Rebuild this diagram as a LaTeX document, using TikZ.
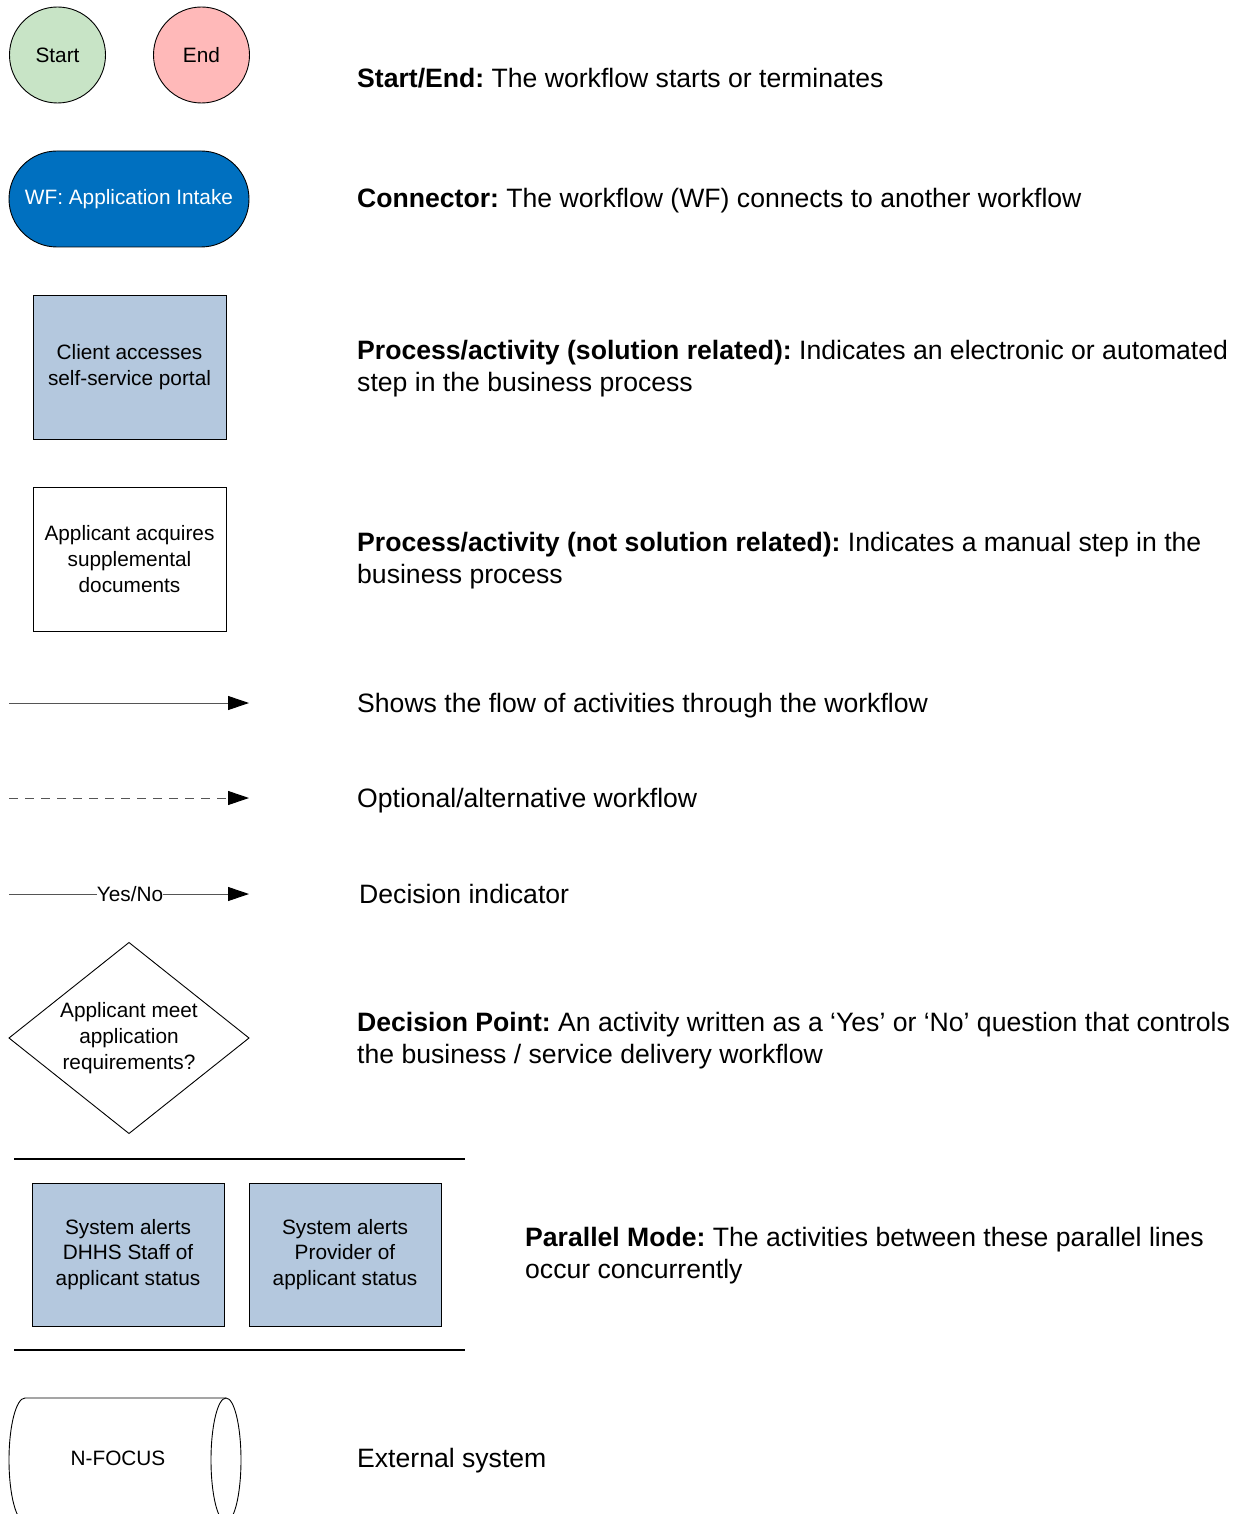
\documentclass[tikz,border=0pt]{standalone}
\usepackage{fontspec}
\setmainfont{Liberation Sans}
\frenchspacing
\usetikzlibrary{arrows.meta}
\definecolor{startgreen}{RGB}{200,228,198}
\definecolor{endpink}{RGB}{255,185,185}
\definecolor{wfblue}{RGB}{0,112,192}
\definecolor{procblue}{RGB}{180,200,222}
\definecolor{linegray}{RGB}{85,85,85}
\newcommand{\labelfont}{\fontsize{20.8}{25.8}\selectfont}
\newcommand{\descfont}{\fontsize{26.6}{32}\selectfont}
\begin{document}
\begin{tikzpicture}[x=1pt,y=-1pt,
  shapeline/.style={draw=black,line width=0.9pt},
  terminal/.style={shapeline,circle,minimum size=96pt,inner sep=0pt,font=\labelfont},
  procbox/.style={shapeline,rectangle,minimum width=193pt,minimum height=144pt,inner sep=0pt,align=center,font=\labelfont},
  desc/.style={anchor=base west,inner sep=0pt,align=left,font=\descfont},
  flow/.style={draw=linegray,line width=1pt,-{Triangle[length=21pt,width=14pt,fill=black,color=black]}},
  parline/.style={draw=black,line width=1.6pt}]
\useasboundingbox (0,0) rectangle (1251,1514);
\clip (0,0) rectangle (1251,1514);

% start / end terminals
\node[terminal,fill=startgreen] (start) at (57.5,55) {Start};
\node[terminal,fill=endpink] (end) at (201.5,55) {End};
\node[desc] (dstart) at (357,88) {\textbf{Start/End:} The workflow starts or terminates};

% workflow connector
\node[shapeline,fill=wfblue,rounded corners=48pt,minimum width=240pt,minimum height=96pt,inner sep=0pt,
      text=white,font=\labelfont] (wf) at (129,199) {WF: Application Intake};
\node[desc] (dwf) at (357,208) {\textbf{Connector:} The workflow (WF) connects to another workflow};

% process boxes (multi-line descriptions are placed by the baseline of their last line)
\node[procbox,fill=procblue] (proc) at (129.5,367) {Client accesses\\self-service portal};
\node[desc] (dproc) at (357,391) {\textbf{Process/activity (solution related):} Indicates an electronic or automated\\step in the business process};

\node[procbox,fill=white] (manual) at (129.5,559) {Applicant acquires\\supplemental\\documents};
\node[desc] (dmanual) at (357,583) {\textbf{Process/activity (not solution related):} Indicates a manual step in the\\business process};

% connector styles
\coordinate (f1a) at (9,703);
\coordinate (f1b) at (249,703);
\draw[flow] (f1a) -- (f1b);
\node[desc] (dflow) at (357,712) {Shows the flow of activities through the workflow};

\coordinate (f2a) at (9,798);
\coordinate (f2b) at (249,798);
\draw[flow,dash pattern=on 9pt off 7pt] (f2a) -- (f2b);
\node[desc] (dopt) at (357,807) {Optional/alternative workflow};

\coordinate (f3a) at (9,894);
\coordinate (f3b) at (249,894);
\node[fill=white,inner sep=0pt,font=\labelfont] (yn) at (130,894) {Yes/No};
\draw[draw=linegray,line width=1pt] (f3a) -- (yn.west);
\draw[flow] (yn.east) -- (f3b);
\node[desc] (ddecind) at (359,903) {Decision indicator};

% decision diamond
\coordinate (dc) at (129,1038);
\draw[shapeline,fill=white] ([xshift=-120pt]dc) -- ([yshift=-95.5pt]dc)
  -- ([xshift=120pt]dc) -- ([yshift=95.5pt]dc) -- cycle;
\node[align=center,inner sep=0pt,font=\labelfont] (dec) at (dc) {Applicant meet\\application\\requirements?};
\node[desc] (ddec) at (357,1063) {\textbf{Decision Point:} An activity written as a ‘Yes’ or ‘No’ question that controls\\the business / service delivery workflow};

% parallel mode
\coordinate (p1a) at (14,1159);
\coordinate (p1b) at (465,1159);
\coordinate (p2a) at (14,1350);
\coordinate (p2b) at (465,1350);
\draw[parline] (p1a) -- (p1b);
\draw[parline] (p2a) -- (p2b);
\node[procbox,minimum width=192pt,minimum height=143pt,fill=procblue] (par1) at (128,1254.5) {System alerts\\DHHS Staff of\\applicant status};
\node[procbox,minimum width=192pt,minimum height=143pt,fill=procblue] (par2) at (345,1254.5) {System alerts\\Provider of\\applicant status};
\node[desc] (dpar) at (525,1278) {\textbf{Parallel Mode:} The activities between these parallel lines\\occur concurrently};

% external system (stored-data drum lying on its side)
\draw[shapeline,fill=white] (226,1398) -- (25,1398)
  arc[start angle=90,end angle=270,x radius=16pt,y radius=62pt]
  -- (226,1522);
\draw[shapeline] (226,1460) ellipse[x radius=15pt,y radius=62pt];
\node[inner sep=0pt,font=\labelfont] (ext) at (118,1458) {N-FOCUS};
\node[desc] (dext) at (357,1467) {External system};
\end{tikzpicture}
\end{document}
